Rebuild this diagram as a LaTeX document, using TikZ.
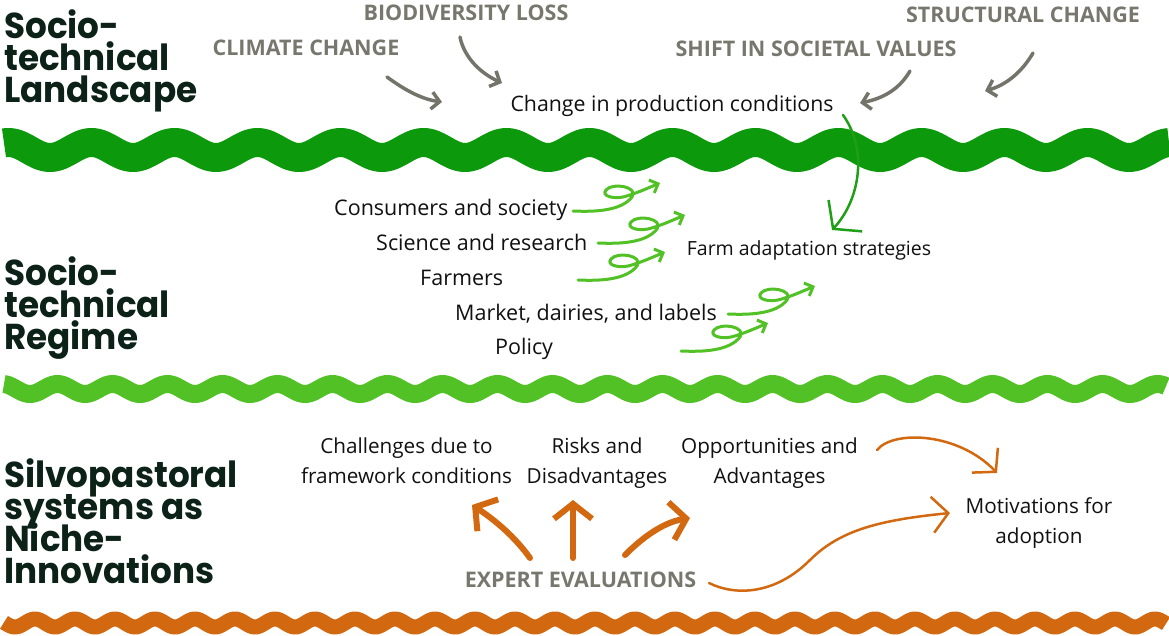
\documentclass[tikz,border=0pt]{standalone}
\usepackage{fontspec}
\setmainfont{Open Sans}
\newfontfamily\titlefont{Poppins}[FakeStretch=0.95]
\usetikzlibrary{arrows.meta}
\definecolor{titlecol}{HTML}{0C2219}
\definecolor{graytxt}{HTML}{77776E}
\definecolor{grayarr}{HTML}{74746B}
\definecolor{txt}{HTML}{111111}
\definecolor{wavegreen}{HTML}{0C990B}
\definecolor{lightgreen}{HTML}{52C126}
\definecolor{arrowgreen}{HTML}{1F9F17}
\definecolor{orangec}{HTML}{D2680F}
\newcommand\tightlines{\setlength{\lineskiplimit}{-100pt}}
\tikzset{
  titletext/.style={font={\titlefont\bfseries\fontsize{36}{32}\selectfont\tightlines}, align=left, inner sep=0pt, text=titlecol, anchor=north west},
  graylab/.style={font={\bfseries\fontsize{21.5}{24}\selectfont}, text=graytxt, inner sep=0pt, anchor=base},
  lab/.style={font={\fontsize{21.5}{26}\selectfont}, text=txt, inner sep=0pt, anchor=base west},
  nichelab/.style={font={\fontsize{20.7}{30}\selectfont\tightlines}, text=txt, inner sep=0pt, align=center, anchor=north},
  grayarrow/.style={draw=grayarr, line width=3.5pt, line cap=round, -{Straight Barb[length=8pt,width=17pt]}},
  farmarrow/.style={draw=arrowgreen, line width=2.5pt, line cap=round, -{Straight Barb[length=18pt,width=46pt]}},
  curlyline/.style={draw=lightgreen, line width=3pt, line cap=round, -{Straight Barb[length=7pt,width=14pt]}},
  orthick/.style={draw=orangec, line width=6pt, line cap=round, -{Straight Barb[length=15pt,width=38pt]}},
  orthin/.style={draw=orangec, line width=2.5pt, line cap=round, -{Straight Barb[length=16pt,width=36pt]}},
  curly/.pic={\draw[curlyline] (0,0) .. controls (22,1) and (48,0) .. (59,-14) .. controls (66,-24) and (40,-29) .. (33,-21) .. controls (28,-15) and (40,-12) .. (50,-14) .. controls (62,-17) and (75,-23) .. (87,-28);}
}
\begin{document}
\begin{tikzpicture}[x=1pt,y=-1pt]
\useasboundingbox (0,0) rectangle (1169,636);
\fill[white] (0,0) rectangle (1169,636);

% waves
\draw[wavegreen, line width=29pt, line join=round] plot[domain=4:1169, samples=500] (\x, {150+7.5*cos(((\x-50)/83)*360)});
\draw[lightgreen, line width=18pt, line join=round] plot[domain=4:1166, samples=500] (\x, {389+5*cos(((\x-30)/55)*360)});
\draw[orangec, line width=15pt, line join=round] plot[domain=4:1166, samples=600] (\x, {623+4*cos(((\x-15)/40)*360)});

% titles
\node[titletext] (tland) at (4,9) {Socio-\\technical\\Landscape};
\node[titletext] (treg) at (4,256) {Socio-\\technical\\Regime};
\node[titletext] (tniche) at (4,458) {Silvopastoral\\systems as\\Niche-\\Innovations};

% landscape
\node[graylab] (bio) at (466,21) {BIODIVERSITY LOSS};
\node[graylab] (clim) at (306,56) {CLIMATE CHANGE};
\node[graylab] (struct) at (1023,23) {STRUCTURAL CHANGE};
\node[graylab] (shift) at (816,57) {SHIFT IN SOCIETAL VALUES};
\node[lab, anchor=base, font={\fontsize{21.3}{26}\selectfont}] (change) at (672,112) {Change in production conditions};

\coordinate (climS) at (387,77);   \coordinate (climE) at (442,102);
\coordinate (bioS) at (460,37);    \coordinate (bioE) at (502,83);
\coordinate (shiftS) at (910,71);  \coordinate (shiftE) at (860,103);
\coordinate (structS) at (1033,53);\coordinate (structE) at (985,91);
\draw[grayarrow] (climS) .. controls (402,88) and (420,99) .. (climE);
\draw[grayarrow] (bioS) .. controls (464,57) and (480,73) .. (bioE);
\draw[grayarrow] (shiftS) .. controls (900,88) and (885,98) .. (shiftE);
\draw[grayarrow] (structS) .. controls (1022,72) and (1006,85) .. (structE);

% regime
\node[lab] (cons) at (334,216) {Consumers and society};
\node[lab] (sci) at (376,251) {Science and research};
\node[lab] (farmers) at (420,285) {Farmers};
\node[lab] (market) at (455,320) {Market, dairies, and labels};
\node[lab] (policy) at (495,354) {Policy};
\node[lab, anchor=base, font={\fontsize{19.5}{24}\selectfont}] (farm) at (809,256) {Farm adaptation strategies};

\coordinate (chS) at (843,115); \coordinate (farmE) at (832,230);
\draw[farmarrow] (chS) .. controls (868,150) and (860,200) .. (farmE);

\coordinate (k1) at (573,211);
\coordinate (k2) at (598,243);
\coordinate (k3) at (578,280);
\coordinate (k4) at (728,314);
\coordinate (k5) at (681,351);
\pic at (k1) {curly};
\pic at (k2) {curly};
\pic at (k3) {curly};
\pic at (k4) {curly};
\pic at (k5) {curly};

% niche
\node[nichelab] (chal) at (406.5,437.5) {Challenges due to\\framework conditions};
\node[nichelab] (risk) at (597,437.5) {Risks and\\Disadvantages};
\node[nichelab] (opp) at (769.5,437.5) {Opportunities and\\Advantages};
\node[nichelab] (motiv) at (1039,497.5) {Motivations for\\adoption};
\node[graylab] (expert) at (580.5,587) {EXPERT EVALUATIONS};

\coordinate (e1) at (530,558); \coordinate (e1t) at (472,505);
\coordinate (e2) at (573,558); \coordinate (e2t) at (573,500);
\coordinate (e3) at (625,555); \coordinate (e3t) at (690,518);
\draw[orthick] (e1) .. controls (515,537) and (495,520) .. (e1t);
\draw[orthick] (e2) -- (e2t);
\draw[orthick] (e3) .. controls (645,535) and (665,522) .. (e3t);

\coordinate (o1) at (877,450); \coordinate (o1t) at (997,473);
\coordinate (x1) at (709,583); \coordinate (x1t) at (950,513);
\draw[orthin] (o1) .. controls (893,430) and (958,432) .. (o1t);
\draw[orthin] (x1) .. controls (735,596) and (775,595) .. (810,560) .. controls (840,530) and (880,520) .. (x1t);
\end{tikzpicture}
\end{document}
